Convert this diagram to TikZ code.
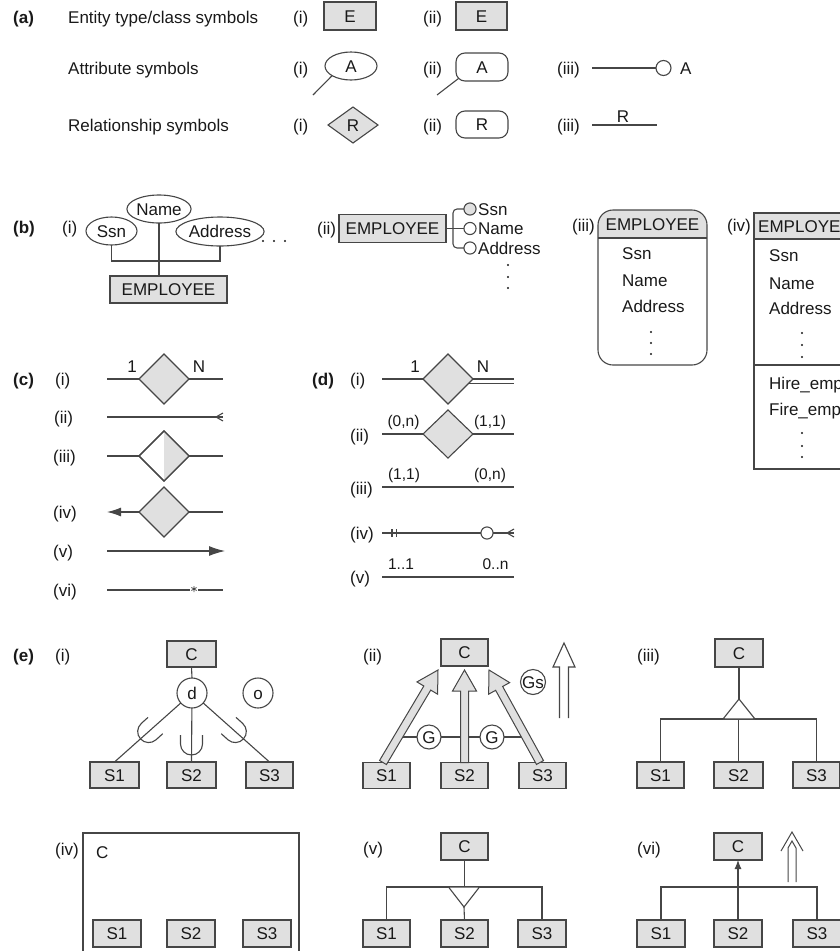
\documentclass[tikz,border=0pt]{standalone}
\usepackage{fontspec}
\setmainfont{Liberation Sans}
\usetikzlibrary{calc,arrows.meta,shapes.geometric}
\definecolor{boxC}{RGB}{224,224,224}
\definecolor{lineC}{RGB}{70,70,70}
\definecolor{txtC}{RGB}{25,25,25}
\newcommand\fatarr[2]{%
  \coordinate (fah) at ($(#2)!21pt!(#1)$);
  \filldraw[fill=boxC,draw=lineC,line width=1pt,line join=miter]
    ($(#1)!4pt!90:(#2)$) -- ($(fah)!4pt!90:(#2)$) -- ($(fah)!12pt!90:(#2)$) -- (#2)
    -- ($(fah)!12pt!-90:(#2)$) -- ($(fah)!4pt!-90:(#2)$) -- ($(#1)!4pt!-90:(#2)$) -- cycle;}
\newcommand\cupsym[2]{%
  \draw[ln,shift={(#1)},rotate=#2] (-11,-9) -- (-11,0) .. controls (-11,6.1) and (-6.1,11) .. (0,11)
    .. controls (6.1,11) and (11,6.1) .. (11,0) -- (11,-9);}
\begin{document}
\begin{tikzpicture}[x=1pt,y=-1pt,font=\fontsize{17}{20}\selectfont,
  lab/.style={inner sep=0pt,anchor=west,text height=12.2pt,text depth=0pt,text=txtC},
  bold/.style={font=\fontsize{17}{20}\selectfont\bfseries},
  ctr/.style={inner sep=0pt,text height=12.2pt,text depth=0pt,text=txtC},
  card/.style={inner sep=0pt,text height=11pt,text depth=0pt,text=txtC,font=\fontsize{15.5}{18}\selectfont},
  ent/.style={draw=lineC,fill=boxC,line width=1.1pt,inner sep=0pt,outer sep=0pt,text height=12.2pt,text depth=0pt,text=txtC},
  ln/.style={draw=lineC,line width=1.1pt},
  att/.style={ellipse,draw=lineC,fill=white,line width=1.1pt,inner sep=0pt,outer sep=0pt,text height=12.2pt,text depth=0pt,text=txtC},
  rel/.style={diamond,draw=lineC,fill=boxC,line width=1.1pt,inner sep=0pt,outer sep=0pt,text height=12.2pt,text depth=0pt,text=txtC},
  circ/.style={circle,draw=lineC,fill=white,line width=1.1pt,inner sep=0pt,outer sep=0pt,text height=12.2pt,text depth=0pt,text=txtC},
  sbox/.style={ent,minimum width=47pt,minimum height=26pt}]
\useasboundingbox (0,0) rectangle (840,951);
\clip (0,0) rectangle (840,951);

% ---------------- (a)
\node[lab,bold] (la) at (13,17) {(a)};
\node[lab] (ta1) at (68,17) {Entity type/class symbols};
\node[lab] (ai1) at (293,17) {(i)};
\node[ent,minimum width=52pt,minimum height=28pt] (E1) at (350,16) {E};
\node[lab] (ai2) at (423,17) {(ii)};
\node[ent,minimum width=51pt,minimum height=28pt,line width=1.4pt] (E2) at (481.5,16) {E};

\node[lab] (ta2) at (68,68) {Attribute symbols};
\node[lab] (bi1) at (293,68) {(i)};
\node[att,minimum width=52pt,minimum height=28pt] (A1) at (351,66) {A};
\coordinate (A1e) at (313,95);
\draw[ln] (A1e) -- (A1.207);
\node[lab] (bi2) at (423,68) {(ii)};
\node[ent,fill=white,rounded corners=9pt,minimum width=52pt,minimum height=28pt] (A2) at (482,67) {A};
\coordinate (A2e) at (437,95);
\draw[ln] (A2e) -- ([xshift=2.6pt,yshift=2.6pt]A2.south west);
\node[lab] (bi3) at (557,68) {(iii)};
\coordinate (A3s) at (592,68);
\node[circ,minimum size=15pt] (A3c) at (663.5,68) {};
\draw[ln] (A3s) -- (A3c);
\node[lab] (A3l) at (680,68) {A};

\node[lab] (ta3) at (68,125) {Relationship symbols};
\node[lab] (ci1) at (293,125) {(i)};
\node[rel,minimum width=50pt,minimum height=36pt] (R1) at (353,125) {R};
\node[lab] (ci2) at (423,125) {(ii)};
\node[ent,fill=white,rounded corners=9pt,minimum width=52pt,minimum height=27pt] (R2) at (482,124.5) {R};
\node[lab] (ci3) at (557,125) {(iii)};
\coordinate (R3a) at (592,125);
\coordinate (R3b) at (657,125);
\draw[ln] (R3a) -- (R3b);
\node[ctr] (R3l) at (623,116) {R};

% ---------------- (b)
\node[lab,bold] (lb) at (13,227) {(b)};
\node[lab] (bbi1) at (62,227) {(i)};
\node[att,minimum width=51pt,minimum height=28pt] (ssn) at (111.5,231) {Ssn};
\node[att,minimum width=54pt,minimum height=28pt] (nam) at (159,209) {Name};
\node[att,minimum width=74pt,minimum height=29pt] (adr) at (220,231.5) {Address};
\fill[txtC] (263,241) circle (1.1) (274,241) circle (1.1) (285,241) circle (1.1);
\node[ent,minimum width=117pt,minimum height=27pt] (emp1) at (168.5,289.5) {EMPLOYEE};
\coordinate (bj) at (159,261);
\draw[ln] (ssn.south) |- (bj) -| (adr.south);
\draw[ln] (nam.south) -- (nam.south |- emp1.north);

\node[lab] (bbi2) at (317,228) {(ii)};
\node[ent,minimum width=107pt,minimum height=28pt] (emp2) at (392.5,228.5) {EMPLOYEE};
\node[circ,fill=boxC,minimum size=10pt] (k1) at (470,209) {};
\node[circ,minimum size=10pt] (k2) at (470,228.5) {};
\node[circ,minimum size=10pt] (k3) at (470,248) {};
\draw[ln] (emp2.east) -- (k2.west);
\draw[ln,rounded corners=4pt] (k1.west) -| (453,228.5) |- (k3.west);
\node[lab] (k1l) at (478,209) {Ssn};
\node[lab] (k2l) at (478,228.5) {Name};
\node[lab] (k3l) at (478,248) {Address};
\fill[txtC] (508,265) circle (1.1) (508,277) circle (1.1) (508,288) circle (1.1);

\node[lab] (bbi3) at (572,225) {(iii)};
\begin{scope}
  \clip[rounded corners=15pt] (598,210) rectangle (707,365);
  \fill[boxC] (598,210) rectangle (707,238);
\end{scope}
\draw[ln,rounded corners=15pt] (598,210) rectangle (707,365);
\draw[ln] (598,238) -- (707,238);
\node[ctr] (h3) at (652.5,224) {EMPLOYEE};
\node[lab] (t3a) at (622,253) {Ssn};
\node[lab] (t3b) at (622,280) {Name};
\node[lab] (t3c) at (622,306) {Address};
\fill[txtC] (651,332) circle (1.1) (651,343) circle (1.1) (651,354) circle (1.1);

\node[lab] (bbi4) at (727,225) {(iv)};
\fill[boxC] (754,213) rectangle (856,239);
\draw[ln] (754,213) rectangle (856,469);
\draw[ln] (754,239) -- (856,239);
\draw[ln] (754,365) -- (856,365);
\node[ctr] (h4) at (805,226) {EMPLOYEE};
\node[lab] (t4a) at (769,255) {Ssn};
\node[lab] (t4b) at (769,283) {Name};
\node[lab] (t4c) at (769,308) {Address};
\fill[txtC] (802,333) circle (1.1) (802,345) circle (1.1) (802,357) circle (1.1);
\node[lab] (t4d) at (769,383) {Hire\_emp};
\node[lab] (t4e) at (769,409) {Fire\_emp};
\fill[txtC] (802,433) circle (1.1) (802,446) circle (1.1) (802,457) circle (1.1);

% ---------------- (c)
\node[lab,bold] (lc) at (13,379) {(c)};
\node[lab] (cc1) at (55,379) {(i)};
\node[rel,minimum width=50pt,minimum height=50pt] (cd1) at (164,379) {};
\coordinate (c1a) at (107,379); \coordinate (c1b) at (223,379);
\draw[ln] (c1a) -- (cd1.west) (cd1.east) -- (c1b);
\node[ctr] (c1x) at (132,366) {1};
\node[ctr] (c1y) at (199,366) {N};

\node[lab] (cc2) at (54,417) {(ii)};
\coordinate (c2a) at (107,417); \coordinate (c2b) at (223,417);
\draw[ln] (c2a) -- (c2b);
\draw[ln] ($(c2b)+(0,-4)$) -- ($(c2b)+(-7,0)$) -- ($(c2b)+(0,4)$);

\node[lab] (cc3) at (53,456) {(iii)};
\node[rel,fill=white,minimum width=50pt,minimum height=50pt] (cd3) at (164,456) {};
\fill[boxC] (cd3.north) -- (cd3.east) -- (cd3.south) -- cycle;
\draw[ln] (cd3.north) -- (cd3.east) -- (cd3.south) -- (cd3.west) -- cycle;
\coordinate (c3a) at (107,456); \coordinate (c3b) at (223,456);
\draw[ln] (c3a) -- (cd3.west) (cd3.east) -- (c3b);

\node[lab] (cc4) at (53,512) {(iv)};
\node[rel,minimum width=50pt,minimum height=50pt] (cd4) at (164,512) {};
\coordinate (c4a) at (107,512); \coordinate (c4b) at (223,512);
\draw[ln,-{Latex[length=14pt,width=9pt]}] (cd4.west) -- (c4a);
\draw[ln] (cd4.east) -- (c4b);

\node[lab] (cc5) at (53,551) {(v)};
\coordinate (c5a) at (107,551); \coordinate (c5b) at (225,551);
\draw[ln,-{Latex[length=16pt,width=10pt]}] (c5a) -- (c5b);

\node[lab] (cc6) at (53,590) {(vi)};
\coordinate (c6a) at (107,590); \coordinate (c6s) at (194,589); \coordinate (c6b) at (223,590);
\draw[ln] (c6a) -- ($(c6s)+(-4,1)$) ($(c6s)+(4,1)$) -- (c6b);
\draw[lineC,line width=0.8pt] ($(c6s)+(0,-3)$) -- ($(c6s)+(0,3)$) ($(c6s)+(-2.6,-1.5)$) -- ($(c6s)+(2.6,1.5)$) ($(c6s)+(-2.6,1.5)$) -- ($(c6s)+(2.6,-1.5)$);

% ---------------- (d)
\node[lab,bold] (ld) at (312,379) {(d)};
\node[lab] (dd1) at (350,379) {(i)};
\node[rel,minimum width=50pt,minimum height=50pt] (dd1d) at (448,379) {};
\coordinate (d1a) at (382,379); \coordinate (d1b) at (514,379); \coordinate (d1c) at (514,383.5);
\draw[ln] (d1a) -- (dd1d.west) (dd1d.east) -- (d1b);
\draw[ln] ($(dd1d.east)+(-4.5,4.5)$) -- (d1c);
\node[ctr] (d1x) at (415,366) {1};
\node[ctr] (d1y) at (483,366) {N};

\node[lab] (dd2) at (350,435) {(ii)};
\node[rel,minimum width=50pt,minimum height=48pt] (dd2d) at (448,434) {};
\coordinate (d2a) at (382,434); \coordinate (d2b) at (514,434);
\draw[ln] (d2a) -- (dd2d.west) (dd2d.east) -- (d2b);
\node[card] (d2x) at (403.5,421) {(0,n)};
\node[card] (d2y) at (490,421) {(1,1)};

\node[lab] (dd3) at (350,488) {(iii)};
\coordinate (d3a) at (382,487); \coordinate (d3b) at (514,487);
\draw[ln] (d3a) -- (d3b);
\node[card] (d3x) at (404,474) {(1,1)};
\node[card] (d3y) at (490,474) {(0,n)};

\node[lab] (dd4) at (350,533) {(iv)};
\coordinate (d4a) at (382,533); \coordinate (d4b) at (514,533);
\node[circ,minimum size=12pt] (d4c) at (487,533) {};
\draw[ln] (d4a) -- (d4c.west) (d4c.east) -- (d4b);
\draw[ln] (392,529) -- (392,537) (396.5,529) -- (396.5,537);
\draw[ln] ($(d4b)+(0,-4)$) -- ($(d4b)+(-7,0)$) -- ($(d4b)+(0,4)$);

\node[lab] (dd5) at (350,577) {(v)};
\coordinate (d5a) at (382,577); \coordinate (d5b) at (514,577);
\draw[ln] (d5a) -- (d5b);
\node[card] (d5x) at (401,564) {1..1};
\node[card] (d5y) at (495.5,564) {0..n};

% ---------------- (e)(i)
\node[lab,bold] (le) at (13,655) {(e)};
\node[lab] (ee1) at (55,655) {(i)};
\node[ent,minimum width=49pt,minimum height=26pt] (C1) at (191.5,654) {C};
\node[circ,minimum size=30pt] (dC) at (192,693) {d};
\node[circ,minimum size=30pt] (oC) at (258,693) {o};
\node[sbox,minimum width=49pt] (S11) at (114.5,775) {S1};
\node[sbox,minimum width=49pt] (S12) at (191.5,775) {S2};
\node[sbox] (S13) at (269.5,775) {S3};
\draw[ln] (C1.south) -- (dC.north);
\draw[ln] (dC) -- (S11.north);
\draw[ln] (dC) -- (S12.north);
\draw[ln] (dC) -- (S13.north);
\coordinate (cu1) at ($(dC)!58pt!(S11.north)$);
\coordinate (cu2) at (191.5,744);
\coordinate (cu3) at ($(dC)!58pt!(S13.north)$);
\cupsym{cu1}{-48}
\cupsym{cu2}{0}
\cupsym{cu3}{48}

% ---------------- (e)(ii)
\node[lab] (ee2) at (363,655) {(ii)};
\node[ent,minimum width=47pt,minimum height=27pt] (C2) at (464.5,652.5) {C};
\node[sbox] (S21) at (386.5,775.5) {S1};
\node[sbox] (S22) at (464.5,775.5) {S2};
\node[sbox] (S23) at (542.5,775.5) {S3};
\coordinate (gl) at (398,737); \coordinate (gr) at (526,737);
\draw[ln] (gl) -- (gr);
\fatarr{[xshift=-3.5pt]S21.north}{[xshift=-3pt,yshift=-4pt]C2.south west}
\fatarr{S22.north}{[yshift=-4pt]C2.south}
\fatarr{[xshift=-2.5pt]S23.north}{[xshift=1pt,yshift=-4pt]C2.south east}
\node[circ,minimum size=24pt] (G1) at (429,737) {G};
\node[circ,minimum size=24pt] (G2) at (492,737) {G};
\node[circ,minimum size=25pt] (Gs) at (533,682) {Gs};
\draw[ln,fill=white,line join=miter] (559.5,718) -- (559.5,667) -- (553,667) -- (564,643) -- (575,667) -- (568.5,667) -- (568.5,718);

% ---------------- (e)(iii)
\node[lab] (ee3) at (637,655) {(iii)};
\node[ent,minimum width=48pt,minimum height=28pt] (C3) at (739,653) {C};
\node[sbox] (S31) at (660.5,775) {S1};
\node[sbox,minimum width=49pt] (S32) at (738.5,775) {S2};
\node[sbox] (S33) at (816.5,775) {S3};
\coordinate (t3) at (739,699);
\draw[ln] (C3.south) -- (t3);
\draw[ln] (S31.north) |- (S33.north |- 0,719) -- (S33.north);
\draw[ln] (S32.north) -- (S32.north |- 0,719);
\draw[ln,fill=white,line join=miter] (t3) -- (723,719) -- (755,719) -- cycle;

% ---------------- (e)(iv)
\node[lab] (ee4) at (55,849) {(iv)};
\draw[ln] (83,960) -- (83,833) -- (299,833) -- (299,960);
\node[lab] (C4) at (96,852) {C};
\node[ent,minimum width=48pt,minimum height=27pt] (S41) at (117,933.5) {S1};
\node[ent,minimum width=48pt,minimum height=27pt] (S42) at (191,933.5) {S2};
\node[ent,minimum width=48pt,minimum height=27pt] (S43) at (267,933.5) {S3};

% ---------------- (e)(v)
\node[lab] (ee5) at (363,848) {(v)};
\node[ent,minimum width=47pt,minimum height=27pt] (C5) at (464.5,846.5) {C};
\node[ent,minimum width=47pt,minimum height=27pt] (S51) at (386.5,933.5) {S1};
\node[ent,minimum width=47pt,minimum height=27pt] (S52) at (464.5,933.5) {S2};
\node[ent,minimum width=48pt,minimum height=27pt] (S53) at (542,933.5) {S3};
\coordinate (t5) at (464,907);
\draw[ln] (C5.south) -- (C5.south |- 0,887);
\draw[ln] (S51.north) |- (S53.north |- 0,887) -- (S53.north);
\draw[ln] (t5) -- (S52.north);
\draw[ln,fill=white,line join=miter] (448.5,887) -- (t5) -- (479.5,887) -- cycle;

% ---------------- (e)(vi)
\node[lab] (ee6) at (637,848) {(vi)};
\node[ent,minimum width=48pt,minimum height=27pt] (C6) at (738,846.5) {C};
\node[ent,minimum width=48pt,minimum height=27pt] (S61) at (661,933.5) {S1};
\node[ent,minimum width=48pt,minimum height=27pt] (S62) at (738,933.5) {S2};
\node[ent,minimum width=48pt,minimum height=27pt] (S63) at (817,933.5) {S3};
\draw[ln] (S61.north) |- (S63.north |- 0,887) -- (S63.north);
\draw[ln,-{Latex[length=9pt,width=7pt]}] (S62.north) -- (C6.south);
\draw[lineC,line width=1pt,line join=miter] (788,882) -- (788,848) -- (792,841) -- (796,848) -- (796,882);
\draw[lineC,line width=1pt,line join=miter] (781,851) -- (792,832) -- (803,851);
\end{tikzpicture}
\end{document}
